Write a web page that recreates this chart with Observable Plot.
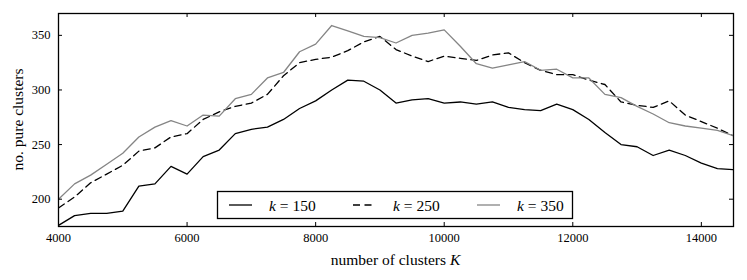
<!DOCTYPE html>
<html><head><meta charset="utf-8">
<script src="https://cdn.jsdelivr.net/npm/d3@7"></script>
<script src="https://cdn.jsdelivr.net/npm/@observablehq/plot@0.6"></script>
<style>body{margin:0;background:#fff}</style>
</head><body><div id="chart"></div>
<script>
// number of clusters K
const clusterCounts = [4000,4250,4500,4750,5000,5250,5500,5750,6000,6250,6500,6750,7000,7250,7500,7750,8000,8250,8500,8750,9000,9250,9500,9750,10000,10250,10500,10750,11000,11250,11500,11750,12000,12250,12500,12750,13000,13250,13500,13750,14000,14250,14500];
// no. pure clusters, k = 150
const pure150 = [176,185,187,187,189,212,214,230,223,239,245,260,264,266,273,283,290,300,309,308,300,288,291,292,288,289,287,289,284,282,281,287,282,273,261,250,248,240,245,240,233,228,227];
// no. pure clusters, k = 250
const pure250 = [192,202,215,223,231,244,247,257,260,273,280,285,288,296,313,325,328,330,336,344,349,337,331,326,331,329,327,332,334,325,318,314,314,309,305,289,286,284,290,277,271,265,258];
// no. pure clusters, k = 350
const pure350 = [200,214,222,232,242,257,266,272,267,277,276,292,296,311,316,335,342,359,354,349,348,343,350,352,355,340,324,320,323,326,318,319,311,311,296,293,285,278,270,267,265,263,258];

const seriesK = ["150", "250", "350"];
const seriesColors = ["#000000", "#000000", "#858585"];
const seriesDash = [null, "7,4.5", null];
const xTicks = [4000, 6000, 8000, 10000, 12000, 14000];
const yTicks = [200, 250, 300, 350];
const xDomain = [4000, 14500];
const yDomain = [175, 370];

const W = 747, H = 280;
const mL = 58, mR = 14, mT = 13, mB = 54;
const plotW = W - mL - mR, plotH = H - mT - mB;
const tickLen = 4;

const rows = vals => clusterCounts.map((K, i) => ({K, v: vals[i]}));
const allSeries = [pure150, pure250, pure350];

const chart = Plot.plot({
  width: W, height: H,
  marginLeft: mL, marginRight: mR, marginTop: mT, marginBottom: mB,
  style: {fontFamily: "'Liberation Serif', 'Times New Roman', serif", fontSize: "12.5px", background: "#fff", color: "#000"},
  x: {domain: xDomain},
  y: {domain: yDomain},
  marks: [
    ...allSeries.map((s, i) => Plot.line(rows(s), {x: "K", y: "v", stroke: seriesColors[i], strokeWidth: 1.3, strokeDasharray: seriesDash[i], clip: true})),
    Plot.ruleX(xTicks, {x: d => d, insetTop: plotH - tickLen, stroke: "#000", strokeWidth: 1}),
    Plot.ruleX(xTicks, {x: d => d, insetBottom: plotH - tickLen, stroke: "#000", strokeWidth: 1}),
    Plot.ruleY(yTicks, {y: d => d, insetRight: plotW - tickLen, stroke: "#000", strokeWidth: 1}),
    Plot.ruleY(yTicks, {y: d => d, insetLeft: plotW - tickLen, stroke: "#000", strokeWidth: 1}),
    Plot.axisX(xTicks, {tickSize: 0, tickPadding: 7, label: null, tickFormat: d => String(d)}),
    Plot.axisY(yTicks, {tickSize: 0, tickPadding: 8, label: null, tickFormat: d => String(d)}),
    Plot.frame({stroke: "#000", strokeWidth: 1.3})
  ]
});

const svg = d3.select(chart);
// axis labels
const xl = svg.append("text")
  .attr("x", mL + plotW / 2).attr("y", 264.5)
  .attr("text-anchor", "middle").attr("font-size", "15.5px").attr("fill", "#000");
xl.append("tspan").text("number of clusters ");
xl.append("tspan").attr("font-style", "italic").text("K");

svg.append("text")
  .attr("transform", `translate(23,${mT + plotH / 2}) rotate(-90)`)
  .attr("text-anchor", "middle").attr("font-size", "15.5px").attr("fill", "#000")
  .text("no. pure clusters");

// legend
const lg = svg.append("g");
lg.append("rect").attr("x", 217.5).attr("y", 191.5).attr("width", 355).attr("height", 27)
  .attr("fill", "#fff").attr("stroke", "#000").attr("stroke-width", 1.3);
seriesK.forEach((k, i) => {
  const x0 = 229 + i * 124;
  lg.append("line").attr("x1", x0).attr("x2", x0 + 23).attr("y1", 205).attr("y2", 205)
    .attr("stroke", seriesColors[i]).attr("stroke-width", 1.3)
    .attr("stroke-dasharray", seriesDash[i]);
  const t = lg.append("text").attr("x", x0 + 40).attr("y", 210.5)
    .attr("text-anchor", "start").attr("font-size", "15.5px").attr("fill", "#000")
    .attr("xml:space", "preserve");
  t.append("tspan").attr("font-style", "italic").text("k");
  t.append("tspan").text(" = " + k);
});

document.getElementById("chart").appendChild(chart);
</script>
</body></html>
